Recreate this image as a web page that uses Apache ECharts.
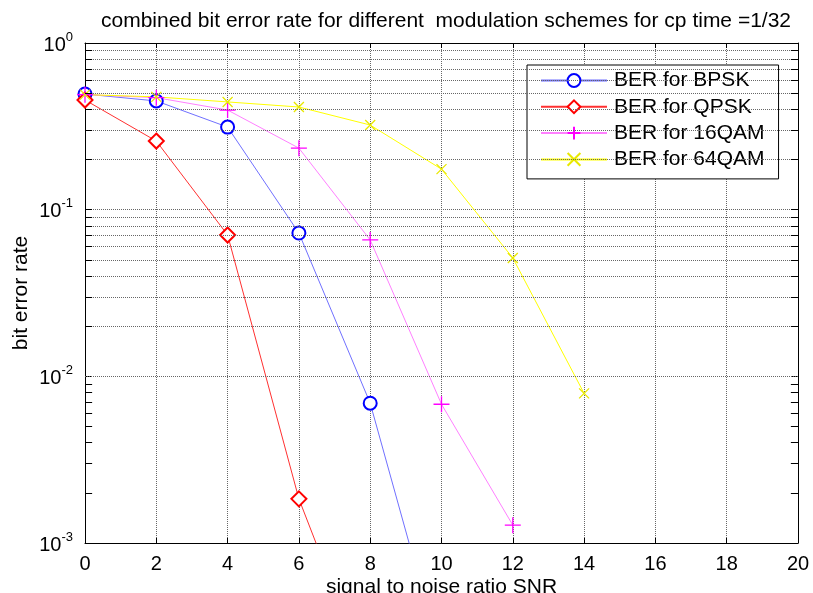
<!DOCTYPE html>
<html><head><meta charset="utf-8">
<script src="https://cdn.jsdelivr.net/npm/echarts@6/dist/echarts.min.js"></script>
<style>html,body{margin:0;padding:0;background:#fff}#c{width:813px;height:593px}</style>
</head><body><div id="c"></div>
<script>
const snr = [0, 2, 4, 6, 8, 10, 12, 14];
const berBPSK = [0.494, 0.449, 0.313, 0.0724, 0.0069, 0.0002];
const berQPSK = [0.455, 0.258, 0.0705, 0.00184, 0.000145];
const ber16QAM = [0.49, 0.47, 0.396, 0.234, 0.0658, 0.0068, 0.00128];
const ber64QAM = [0.49, 0.475, 0.443, 0.413, 0.322, 0.175, 0.0513, 0.0079];
const minorY = [0.002,0.003,0.004,0.005,0.006,0.007,0.008,0.009,
                0.02,0.03,0.04,0.05,0.06,0.07,0.08,0.09,
                0.2,0.3,0.4,0.5,0.6,0.7,0.8,0.9];
const names = ['BER for BPSK','BER for QPSK','BER for 16QAM','BER for 64QAM'];

function pairs(ys){ return ys.map((v,i)=>[snr[i], v]); }
const F = 'Liberation Sans, Arial, sans-serif';
const gridColor = '#666666';

const minorGrid = minorY.map(v => ({yAxis: v}));
const minorTicks = [];
minorY.forEach(v => {
  minorTicks.push([{coord:[0, v]}, {coord:[0.2, v]}]);
  minorTicks.push([{coord:[19.8, v]}, {coord:[20, v]}]);
});

const chart = echarts.init(document.getElementById('c'), null, {renderer:'canvas'});
const logLabel = {
  fontFamily: F, color:'#000', margin: 12, padding:[4,0,0,0],
  formatter: v => '{b|10}{s|' + Math.round(Math.log10(v)) + '}',
  rich: { b:{fontSize:20, fontFamily:F, color:'#000'}, s:{fontSize:13, fontFamily:F, color:'#000', padding:[0,0,16,0]} }
};
chart.setOption({
  animation:false,
  backgroundColor:'#fff',
  title:{ text:'combined bit error rate for different  modulation schemes for cp time =1/32',
    left:441, top:6, textAlign:'center',
    textStyle:{fontFamily:F, fontSize:21, fontWeight:'normal', color:'#000'} },
  grid:{ left:85, right:15, top:43, bottom:50, containLabel:false, outerBoundsMode:'none' },
  legend:{
    data:names, orient:'vertical', left:527, top:65,
    borderColor:'#000', borderWidth:1, backgroundColor:'#fff',
    padding:[5,14,9,13], itemWidth:66, itemHeight:16, itemGap:5.3,
    textStyle:{fontFamily:F, fontSize:21, lineHeight:21, color:'#000', padding:[0,0,0,2]}
  },
  xAxis:[{
    type:'value', min:0, max:20, interval:2, position:'bottom',
    name:'signal to noise ratio SNR', nameLocation:'middle', nameGap:34, nameMoveOverlap:false,
    nameTextStyle:{fontFamily:F, fontSize:21, color:'#000', verticalAlign:'top'},
    axisLine:{onZero:false, lineStyle:{color:'#000', width:1}},
    axisTick:{inside:true, length:5, lineStyle:{color:'#000'}},
    axisLabel:{fontFamily:F, fontSize:20, color:'#000', margin:11},
    splitLine:{show:true, lineStyle:{color:gridColor, type:[1,1], width:1}}
  },{
    type:'value', min:0, max:20, interval:2, position:'top',
    axisLine:{onZero:false, lineStyle:{color:'#000'}},
    axisTick:{inside:true, length:5, lineStyle:{color:'#000'}},
    axisLabel:{show:false}, splitLine:{show:false}
  }],
  yAxis:[{
    type:'log', logBase:10, min:0.001, max:1, position:'left',
    name:'bit error rate', nameLocation:'middle', nameGap:53, nameMoveOverlap:false,
    nameTextStyle:{fontFamily:F, fontSize:21, color:'#000'},
    axisLine:{onZero:false, lineStyle:{color:'#000'}},
    axisTick:{inside:true, length:7, lineStyle:{color:'#000'}},
    axisLabel:logLabel,
    splitLine:{show:true, lineStyle:{color:gridColor, type:[1,1], width:1}}
  },{
    type:'log', logBase:10, min:0.001, max:1, position:'right',
    axisLine:{onZero:false, lineStyle:{color:'#000'}},
    axisTick:{inside:true, length:7, lineStyle:{color:'#000'}},
    axisLabel:{show:false}, splitLine:{show:false}
  }],
  series:[
    { name:'gridlines', type:'line', data:[], silent:true,
      markLine:{ silent:true, symbol:['none','none'], label:{show:false},
        lineStyle:{color:gridColor, type:[1,1], width:1}, data:minorGrid, animation:false } },
    { name:'minorticks', type:'line', data:[], silent:true,
      markLine:{ silent:true, symbol:['none','none'], label:{show:false},
        lineStyle:{color:'#000', type:'solid', width:1}, data:minorTicks, animation:false } },
    { name:names[0], type:'line', data:pairs(berBPSK), symbol:'emptyCircle', symbolSize:13,
      lineStyle:{color:'#7070ff', width:1}, itemStyle:{color:'#0000ff', borderColor:'#0000ff', borderWidth:1.2} },
    { name:names[1], type:'line', data:pairs(berQPSK), symbol:'emptyDiamond', symbolSize:15,
      lineStyle:{color:'#ff3030', width:1}, itemStyle:{color:'#ff0000', borderColor:'#ff0000', borderWidth:1.2} },
    { name:names[2], type:'line', data:pairs(ber16QAM), symbol:'path://M0,5L10,5M5,0L5,10', symbolSize:16,
      lineStyle:{color:'#ff80ff', width:1}, itemStyle:{color:'#ff00ff', borderColor:'#ff00ff', borderWidth:1.3} },
    { name:names[3], type:'line', data:pairs(ber64QAM), symbol:'path://M0,0L10,10M10,0L0,10', symbolSize:10,
      lineStyle:{color:'#ffff00', width:1}, itemStyle:{color:'#ffff00', borderColor:'#e8e800', borderWidth:1.3} }
  ]
});
</script></body></html>
